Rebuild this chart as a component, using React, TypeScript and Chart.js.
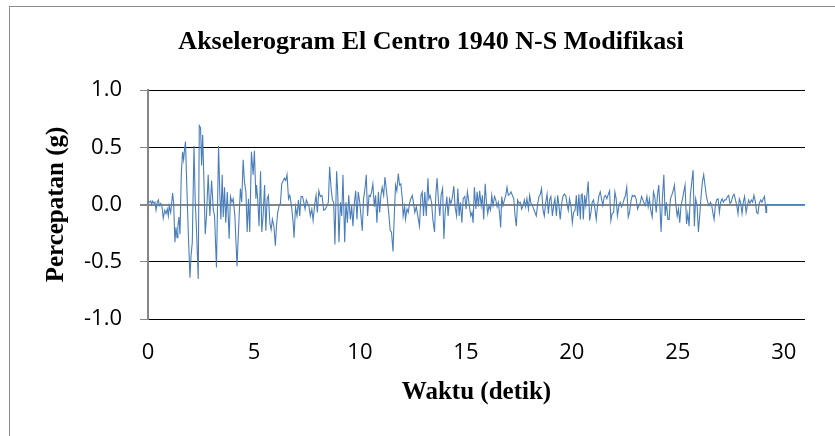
import React, { useEffect, useRef } from "react";
import { Chart, registerables } from "chart.js";

Chart.register(...registerables);

const chartTitle = "Akselerogram El Centro 1940 N-S Modifikasi";
const xAxisTitle = "Waktu (detik)";
const yAxisTitle = "Percepatan (g)";

const xMin = 0;
const xMax = 31;
const xStep = 5;
const yMin = -1;
const yMax = 1;
const yStep = 0.5;

// [time (s), acceleration (g)], in segments
const seg0to5: [number, number][] = [
  [0, 0.03], [0.06, 0.02], [0.13, 0.03], [0.17, 0.0], [0.22, 0.03], [0.28, 0.01], [0.33, 0.02], [0.38, -0.05],
  [0.44, 0.02], [0.49, 0.04], [0.53, -0.01], [0.6, 0.01], [0.66, -0.02], [0.72, -0.12], [0.79, -0.05], [0.85, -0.08],
  [0.91, -0.04], [0.96, -0.1], [1.0, -0.01], [1.07, -0.07], [1.12, 0.02], [1.16, 0.1], [1.21, 0.01], [1.27, -0.33],
  [1.32, -0.2], [1.37, -0.29], [1.41, -0.19], [1.46, -0.11], [1.51, -0.26], [1.57, 0.26], [1.63, 0.46], [1.68, 0.39],
  [1.73, 0.49], [1.77, 0.55], [1.82, 0.23], [1.9, -0.24], [1.98, -0.64], [2.03, -0.45], [2.09, -0.33], [2.17, 0.51],
  [2.23, 0.02], [2.29, -0.23], [2.37, -0.65], [2.42, 0.69], [2.48, 0.67], [2.53, 0.34], [2.58, 0.61], [2.64, 0.2],
  [2.7, -0.26], [2.76, -0.1], [2.84, 0.26], [2.92, -0.1], [3.0, 0.21], [3.08, -0.04], [3.14, -0.1], [3.23, -0.55],
  [3.33, 0.51], [3.39, 0.08], [3.44, -0.13], [3.5, 0.26], [3.55, -0.11], [3.61, 0.15], [3.67, -0.16], [3.74, 0.11],
  [3.83, -0.3], [3.89, 0.07], [3.96, 0.02], [4.02, 0.05], [4.1, -0.1], [4.2, -0.54], [4.3, -0.1], [4.36, 0.14],
  [4.42, 0.02], [4.49, 0.39], [4.55, 0.2], [4.62, 0.11], [4.68, -0.24], [4.74, 0.05],
];

const seg5to10: [number, number][] = [
  [4.8, -0.24], [4.88, 0.46], [4.96, 0.26], [5.02, 0.47], [5.09, 0.05], [5.12, 0.17], [5.18, 0.04], [5.24, -0.19],
  [5.31, 0.29], [5.37, -0.24], [5.43, -0.1], [5.5, 0.17], [5.56, -0.23], [5.62, 0.05], [5.68, 0.08], [5.75, -0.16],
  [5.81, -0.22], [5.87, -0.13], [5.94, -0.19], [6.01, -0.36], [6.06, -0.19], [6.12, -0.07], [6.19, -0.01], [6.25, 0.01],
  [6.31, 0.18], [6.38, 0.21], [6.44, 0.23], [6.5, 0.21], [6.56, 0.26], [6.63, 0.05], [6.69, 0.08], [6.77, -0.01],
  [6.85, -0.16], [6.89, -0.29], [6.96, -0.02], [7.03, -0.1], [7.1, 0.04], [7.16, -0.1], [7.22, 0.07], [7.29, 0.07],
  [7.35, 0.02], [7.41, -0.04], [7.47, 0.04], [7.54, 0.01], [7.6, -0.02], [7.66, -0.1], [7.73, -0.04], [7.79, -0.14],
  [7.87, 0.01], [7.93, 0.08], [7.99, -0.07], [8.06, 0.12], [8.13, 0.07], [8.21, 0.08], [8.29, -0.05], [8.37, -0.04],
  [8.45, -0.01], [8.51, 0.02], [8.57, 0.33], [8.64, 0.14], [8.7, 0.04], [8.76, 0.02], [8.82, -0.35], [8.9, 0.29],
  [8.95, 0.11], [9.01, -0.33], [9.08, 0.02], [9.14, -0.1], [9.2, 0.26], [9.28, -0.33], [9.34, 0.02], [9.41, -0.16],
  [9.47, 0.08], [9.55, -0.13], [9.61, -0.01], [9.67, -0.19], [9.74, 0.02], [9.8, 0.12], [9.86, -0.13], [9.92, 0.11],
  [9.99, 0.02],
];

const seg10to15: [number, number][] = [
  [10.05, -0.1], [10.11, -0.23], [10.17, 0.05], [10.24, 0.14], [10.3, 0.26], [10.36, -0.1], [10.43, 0.08], [10.49, 0.07],
  [10.55, 0.11], [10.61, 0.18], [10.68, -0.02], [10.74, 0.08], [10.8, -0.16], [10.87, 0.11], [10.93, -0.07], [10.99, 0.08],
  [11.05, 0.15], [11.12, 0.08], [11.18, 0.24], [11.24, 0.14], [11.31, 0.02], [11.37, -0.1], [11.43, -0.23], [11.49, -0.24],
  [11.56, -0.41], [11.62, -0.1], [11.68, 0.17], [11.74, 0.12], [11.81, 0.27], [11.87, 0.17], [11.93, 0.18], [12.0, 0.05],
  [12.04, -0.1], [12.11, -0.02], [12.15, -0.13], [12.22, -0.04], [12.28, -0.07], [12.34, 0.01], [12.4, 0.05], [12.47, 0.08],
  [12.53, 0.01], [12.59, -0.07], [12.66, -0.02], [12.73, -0.1], [12.81, -0.19], [12.88, 0.08], [12.94, 0.11], [13.0, -0.1],
  [13.06, 0.11], [13.13, -0.1], [13.21, 0.23], [13.25, 0.05], [13.31, 0.08], [13.38, 0.02], [13.44, -0.13], [13.52, -0.24],
  [13.58, 0.08], [13.64, 0.23], [13.71, 0.02], [13.77, -0.1], [13.83, 0.08], [13.9, 0.14], [13.96, -0.3], [14.02, -0.07],
  [14.1, 0.07], [14.16, -0.1], [14.23, 0.05], [14.29, 0.01], [14.35, 0.05], [14.43, 0.16], [14.49, -0.02], [14.56, -0.1],
  [14.62, 0.14], [14.68, -0.1], [14.74, 0.02], [14.81, -0.16], [14.87, 0.05], [14.95, 0.07], [15.01, -0.04], [15.07, 0.11],
  [15.14, 0.02],
];

const seg15to20: [number, number][] = [
  [15.23, -0.1], [15.29, -0.07], [15.34, -0.16], [15.4, 0.15], [15.47, -0.04], [15.53, 0.11], [15.59, -0.02], [15.65, 0.12],
  [15.72, -0.01], [15.78, 0.08], [15.84, -0.13], [15.91, 0.18], [15.97, 0.02], [16.03, -0.08], [16.09, -0.01], [16.16, -0.05],
  [16.22, 0.08], [16.28, -0.01], [16.35, 0.07], [16.41, 0.04], [16.47, -0.02], [16.53, 0.02], [16.6, -0.1], [16.64, -0.2],
  [16.69, 0.07], [16.75, -0.01], [16.82, 0.04], [16.88, 0.08], [16.94, 0.15], [17.0, 0.08], [17.07, 0.09], [17.13, 0.11],
  [17.19, 0.08], [17.26, 0.05], [17.32, -0.1], [17.38, -0.19], [17.44, 0.04], [17.51, 0.01], [17.57, 0.02], [17.63, -0.04],
  [17.7, -0.01], [17.76, 0.04], [17.82, -0.02], [17.88, 0.05], [17.95, -0.04], [18.01, 0.08], [18.07, 0.01], [18.14, -0.01],
  [18.2, -0.04], [18.26, -0.07], [18.32, -0.1], [18.39, 0.01], [18.45, 0.07], [18.51, 0.09], [18.57, 0.14], [18.64, -0.05],
  [18.7, -0.1], [18.76, 0.01], [18.83, 0.09], [18.89, -0.08], [18.95, 0.04], [19.01, 0.07], [19.08, -0.1], [19.14, -0.01],
  [19.2, 0.05], [19.27, -0.1], [19.33, 0.08], [19.39, -0.01], [19.45, -0.13], [19.52, 0.01], [19.58, 0.07], [19.64, 0.09],
  [19.71, 0.08], [19.77, 0.01], [19.83, -0.05], [19.89, 0.05], [19.96, -0.02], [20.02, -0.16], [20.08, -0.07], [20.15, -0.05],
  [20.21, 0.08], [20.27, -0.1], [20.33, 0.09],
];

const seg20to25: [number, number][] = [
  [20.4, -0.13], [20.44, 0.08], [20.49, 0.09], [20.54, -0.13], [20.6, 0.08], [20.66, -0.01], [20.71, 0.08], [20.77, 0.2],
  [20.84, -0.14], [20.9, -0.07], [20.96, 0.02], [21.02, 0.04], [21.09, -0.04], [21.15, -0.13], [21.21, -0.01], [21.28, 0.08],
  [21.34, 0.11], [21.4, 0.05], [21.46, -0.01], [21.53, 0.07], [21.59, 0.08], [21.65, 0.05], [21.72, 0.09], [21.78, 0.12],
  [21.84, -0.14], [21.9, -0.08], [21.97, -0.07], [22.03, 0.11], [22.09, 0.05], [22.15, -0.1], [22.22, -0.01], [22.28, 0.02],
  [22.34, -0.02], [22.41, 0.01], [22.47, 0.05], [22.53, 0.08], [22.59, 0.15], [22.66, -0.11], [22.72, -0.07], [22.78, 0.02],
  [22.85, 0.08], [22.91, 0.07], [22.97, 0.08], [23.03, 0.05], [23.1, -0.04], [23.16, -0.01], [23.22, 0.01], [23.29, 0.07],
  [23.35, 0.04], [23.41, 0.01], [23.47, -0.01], [23.54, 0.07], [23.6, -0.02], [23.66, 0.05], [23.72, -0.05], [23.79, -0.11],
  [23.85, 0.11], [23.91, 0.07], [23.98, -0.07], [24.04, 0.08], [24.1, 0.17], [24.16, -0.04], [24.21, -0.24], [24.27, 0.05],
  [24.34, 0.26], [24.4, -0.1], [24.46, 0.02], [24.53, -0.13], [24.59, -0.13], [24.65, 0.05], [24.71, 0.08], [24.78, 0.12],
  [24.84, 0.17], [24.9, 0.01], [24.97, -0.1], [25.03, -0.04], [25.09, -0.16], [25.15, -0.01], [25.22, 0.05], [25.28, 0.11],
  [25.34, 0.17], [25.41, -0.17], [25.47, -0.08],
];

const seg25to31: [number, number][] = [
  [25.53, -0.19], [25.59, 0.08], [25.66, 0.2], [25.72, 0.3], [25.78, -0.19], [25.84, 0.05], [25.91, -0.01], [25.97, -0.24],
  [26.03, -0.1], [26.1, 0.08], [26.16, 0.2], [26.22, 0.26], [26.28, 0.17], [26.35, 0.07], [26.41, 0.02], [26.47, -0.01],
  [26.54, 0.02], [26.6, -0.01], [26.66, -0.08], [26.71, -0.13], [26.77, -0.01], [26.83, 0.04], [26.9, 0.05], [26.96, -0.07],
  [27.02, 0.02], [27.09, 0.05], [27.15, 0.02], [27.21, 0.04], [27.27, 0.04], [27.34, 0.07], [27.4, 0.08], [27.46, 0.01],
  [27.52, 0.02], [27.59, 0.07], [27.65, 0.09], [27.71, 0.05], [27.78, -0.01], [27.84, -0.08], [27.9, 0.05], [27.96, 0.02],
  [28.03, -0.08], [28.09, 0.02], [28.15, 0.07], [28.22, -0.07], [28.28, -0.01], [28.34, 0.04], [28.4, 0.01], [28.47, 0.04],
  [28.53, 0.02], [28.59, 0.08], [28.66, 0.02], [28.72, -0.07], [28.78, -0.08], [28.84, 0.01], [28.91, 0.04], [28.97, 0.02],
  [29.03, 0.05], [29.09, 0.07], [29.16, -0.07], [29.19, 0.0], [29.5, 0.0], [30.0, 0.0], [31.0, 0.0],
];

const segments = [seg0to5, seg5to10, seg10to15, seg15to20, seg20to25, seg25to31];

export default function App() {
  const canvasRef = useRef<HTMLCanvasElement>(null);

  useEffect(() => {
    const canvas = canvasRef.current;
    if (!canvas) return;

    const points = segments.flat().map(([t, a]) => ({ x: t, y: a }));

    const decor = {
      id: "decor",
      beforeDraw(chart: any) {
        const { ctx, width, height } = chart;
        ctx.save();
        ctx.fillStyle = "#ffffff";
        ctx.fillRect(0, 0, width, height);
        ctx.restore();
      },
      afterDraw(chart: any) {
        const { ctx } = chart;
        ctx.save();
        ctx.strokeStyle = "#8c8c8c";
        ctx.lineWidth = 1;
        ctx.strokeRect(9.5, 6.5, 900, 500);
        ctx.font = 'bold 26px "Liberation Serif"';
        ctx.fillStyle = "#000000";
        ctx.textAlign = "center";
        ctx.textBaseline = "alphabetic";
        ctx.fillText(chartTitle, 431, 49);
        ctx.restore();
      },
    };

    const tickFont = { family: '"Open Sans"', size: 22 };
    const titleFont = { family: '"Liberation Serif"', size: 25, weight: "bold" as const };

    const chart = new Chart(canvas, {
      type: "line",
      data: {
        datasets: [
          {
            data: points,
            borderColor: "#4a7ebb",
            borderWidth: 1.1,
            pointRadius: 0,
            tension: 0,
            fill: false,
          },
        ],
      },
      options: {
        animation: false,
        responsive: false,
        devicePixelRatio: 1,
        layout: { padding: { top: 90, right: 30, left: 0, bottom: 0 } },
        plugins: {
          legend: { display: false },
          tooltip: { enabled: false },
          title: { display: false },
        },
        scales: {
          x: {
            type: "linear",
            min: xMin,
            max: xMax,
            ticks: {
              stepSize: xStep,
              includeBounds: false,
              padding: 21,
              color: "#000000",
              font: tickFont,
              maxRotation: 0,
              autoSkip: false,
            },
            afterBuildTicks: (scale: any) => {
              scale.ticks = scale.ticks.filter((t: any) => t.value % xStep === 0);
            },
            grid: { display: false, drawTicks: false },
            border: { display: false },
            title: {
              display: true,
              text: xAxisTitle,
              color: "#000000",
              font: titleFont,
              padding: { top: 0, bottom: 28 },
            },
            afterFit: (scale: any) => {
              scale.height = 117;
            },
          },
          y: {
            type: "linear",
            min: yMin,
            max: yMax,
            ticks: {
              stepSize: yStep,
              padding: 18,
              color: "#000000",
              font: tickFont,
              callback: (v: any) => Number(v).toFixed(1),
            },
            grid: {
              color: (ctx: any) => (ctx.tick && ctx.tick.value === 0 ? "#868686" : "#000000"),
              lineWidth: (ctx: any) => (ctx.tick && ctx.tick.value === 0 ? 2 : 1),
              tickColor: "#868686",
              tickLength: 8,
              drawTicks: true,
            },
            border: { display: true, color: "#868686", width: 2 },
            title: {
              display: true,
              text: yAxisTitle,
              color: "#000000",
              font: titleFont,
              padding: { top: 42, bottom: 0 },
            },
            afterFit: (scale: any) => {
              scale.width = 148;
            },
          },
        },
      },
      plugins: [decor],
    });

    return () => {
      chart.destroy();
    };
  }, []);

  return (
    <div style={{ position: "absolute", left: 0, top: 0, width: 835, height: 436 }}>
      <canvas ref={canvasRef} width={835} height={436} style={{ display: "block" }} />
    </div>
  );
}
